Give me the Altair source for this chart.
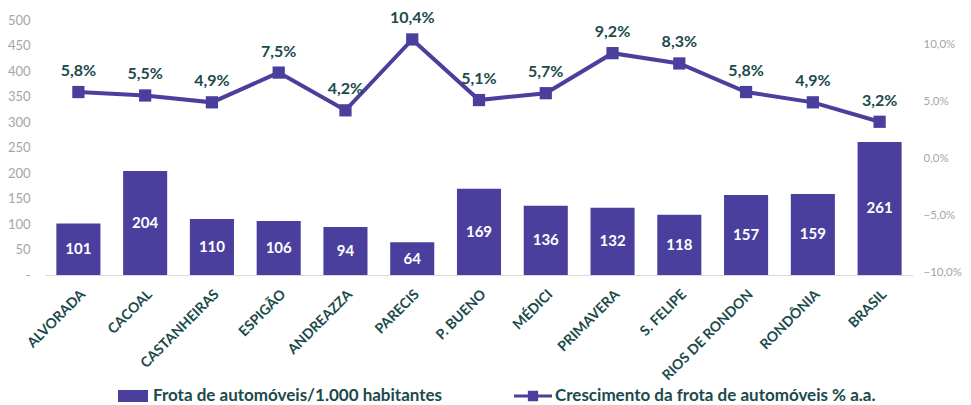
import altair as alt
import pandas as pd

categorias = ["ALVORADA", "CACOAL", "CASTANHEIRAS", "ESPIGÃO", "ANDREAZZA", "PARECIS",
              "P. BUENO", "MÉDICI", "PRIMAVERA", "S. FELIPE", "RIOS DE RONDON", "RONDÔNIA", "BRASIL"]
frota = [101, 204, 110, 106, 94, 64, 169, 136, 132, 118, 157, 159, 261]
crescimento = [5.8, 5.5, 4.9, 7.5, 4.2, 10.4, 5.1, 5.7, 9.2, 8.3, 5.8, 4.9, 3.2]

SERIE_BAR = "Frota de automóveis/1.000 habitantes"
SERIE_LINE = "Crescimento da frota de automóveis % a.a."

df = pd.DataFrame({"cat": categorias, "frota": frota, "cresc": crescimento})
df["mid"] = df["frota"] / 2
df["cresc_lbl"] = [f"{v:.1f}".replace(".", ",") + "%" for v in crescimento]
df["sb"] = SERIE_BAR
df["sl"] = SERIE_LINE

PURPLE = "#4B3F9E"
TEAL = "#1B4A4C"
GRAY = "#A6A6A6"
FONT = "Lato"

x = alt.X("cat:N", sort=categorias, title=None,
          scale=alt.Scale(paddingInner=0.34, paddingOuter=0.17),
          axis=alt.Axis(labelAngle=-45, labelFont=FONT, labelFontSize=14, labelFontWeight="bold",
                        labelColor=TEAL, ticks=False, domainColor="#D9D9D9", labelPadding=12,
                        labelOverlap=False, labelAlign="right", labelBaseline="top"))

yL = alt.Scale(domain=[0, 500], nice=False)
yR = alt.Scale(domain=[-10.2, 12.1], nice=False, zero=False)

axL = alt.Axis(values=[0, 50, 100, 150, 200, 250, 300, 350, 400, 450, 500],
               labelExpr="datum.value == 0 ? '-' : datum.label",
               grid=False, ticks=False, domain=False, labelColor=GRAY,
               labelFont=FONT, labelFontSize=13, labelPadding=15)
axR = alt.Axis(orient="right", values=[-10, -5, 0, 5, 10],
               labelExpr="replace(format(datum.value, '.1f'), '.', ',') + '%'",
               grid=False, ticks=False, domain=False, labelColor=GRAY,
               labelFont=FONT, labelFontSize=11.5, labelPadding=10)

base = alt.Chart(df)

bars = base.mark_bar(color=PURPLE).encode(
    x=x,
    y=alt.Y("frota:Q", scale=yL, title=None, axis=axL),
    color=alt.Color("sb:N", scale=alt.Scale(domain=[SERIE_BAR], range=[PURPLE]),
                    legend=alt.Legend(title=None, orient="none", legendX=73, legendY=361,
                                      symbolType="M-1,-0.4H1V0.4H-1Z", symbolSize=900,
                                      symbolStrokeWidth=0, labelFont=FONT, labelFontSize=17,
                                      labelFontWeight="bold", labelColor=TEAL, labelOffset=5,
                                      padding=0, labelLimit=500)),
)

bar_text = base.mark_text(color="white", font=FONT, fontSize=15, fontWeight="bold").encode(
    x=x,
    y=alt.Y("mid:Q", scale=yL, title=None, axis=axL),
    text="frota:Q",
)

left = alt.layer(bars, bar_text)

line = base.mark_line(color=PURPLE, strokeWidth=4).encode(
    x=x, y=alt.Y("cresc:Q", scale=yR, title=None, axis=axR))

pts = base.mark_point(shape="square", filled=True, size=150, opacity=1).encode(
    x=x,
    y=alt.Y("cresc:Q", scale=yR, title=None, axis=axR),
    color=alt.Color("sl:N", scale=alt.Scale(domain=[SERIE_LINE], range=[PURPLE]),
                    legend=alt.Legend(title=None, orient="none", legendX=469, legendY=357,
                                      symbolType="M-1,-0.08H1V0.08H-1Z M-0.27,-0.27H0.27V0.27H-0.27Z",
                                      symbolSize=1444, symbolStrokeWidth=0, symbolOpacity=1,
                                      labelFont=FONT, labelOpacity=1,
                                      labelFontSize=17, labelFontWeight="bold", labelColor=TEAL,
                                      labelOffset=3, padding=0, labelLimit=500)),
)

line_text = base.mark_text(color=TEAL, font=FONT, fontSize=16, fontWeight="bold", dy=-21).encode(
    x=x,
    y=alt.Y("cresc:Q", scale=yR, title=None, axis=axR),
    text="cresc_lbl:N",
)

right = alt.layer(line, pts, line_text)

chart = alt.layer(left, right).resolve_scale(y="independent", color="independent").properties(
    width=868, height=255,
    autosize=alt.AutoSizeParams(type="none"),
    padding={"left": 37, "top": 12, "right": 50, "bottom": 135},
).configure_view(stroke=None)

chart.save("out.html", embed_options={"renderer": "svg", "actions": False})
